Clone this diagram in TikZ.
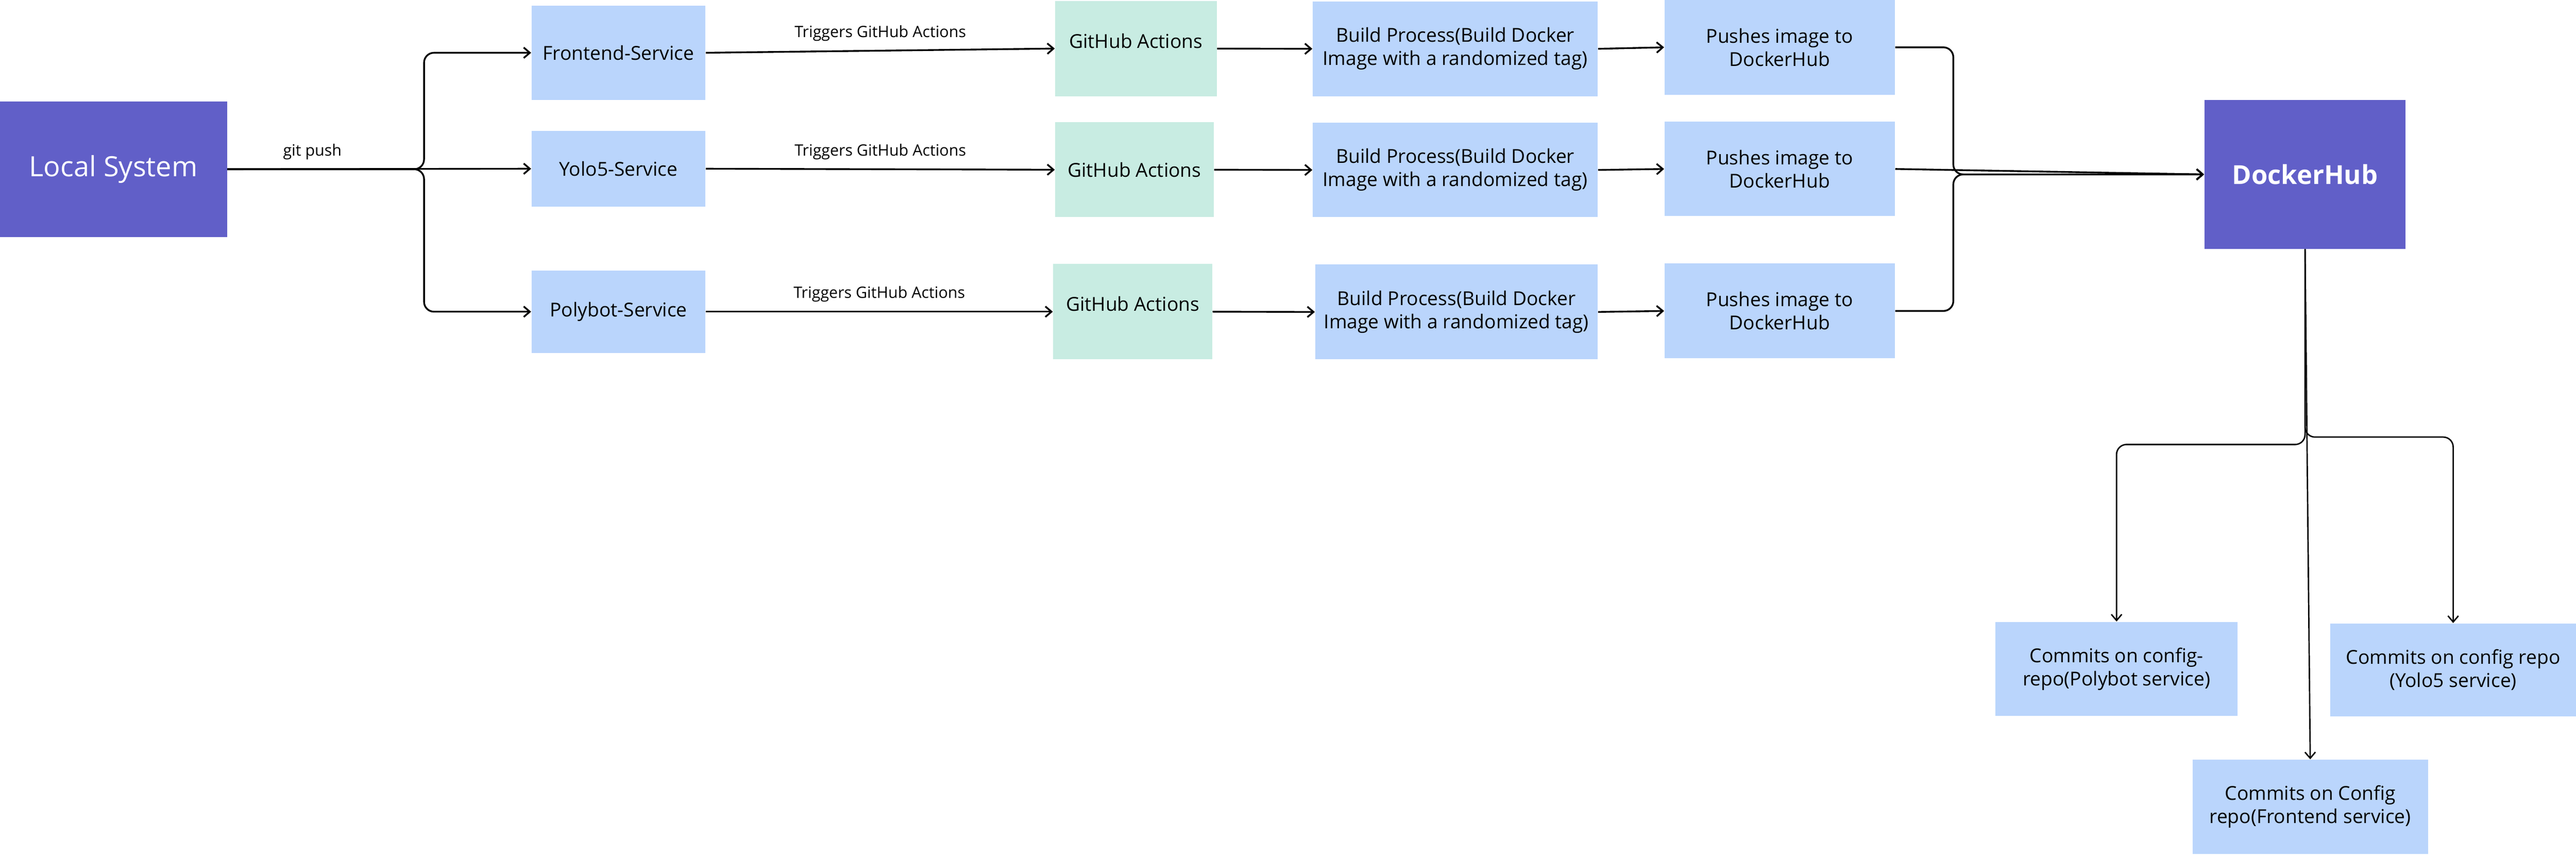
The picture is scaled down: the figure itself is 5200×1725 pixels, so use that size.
\documentclass[tikz,border=0pt]{standalone}
\usepackage{fontspec}
\setmainfont{Open Sans}
\usetikzlibrary{arrows.meta}
\definecolor{dpurple}{HTML}{615FC8}
\definecolor{lblue}{HTML}{BAD5FC}
\definecolor{lgreen}{HTML}{C8ECE2}
\tikzset{
  box/.style={rectangle, fill=lblue, inner sep=0pt, align=center, text=black,
    font=\fontsize{11}{13.3}\selectfont},
  gabox/.style={box, fill=lgreen},
  hub/.style={rectangle, fill=dpurple, inner sep=0pt, align=center, text=white},
  conn/.style={line width=1pt, rounded corners=0.2cm, -{Straight Barb[length=3.5pt,width=6pt]}},
  conn2/.style={line width=0.8pt, rounded corners=0.2cm, -{Straight Barb[length=3.5pt,width=6pt]}},
  lbl/.style={font=\fontsize{9}{10}\selectfont, inner sep=1pt, above=4pt}
}
\begin{document}
\begin{tikzpicture}[x=0.01cm, y=-0.01cm]
\useasboundingbox (0,0) rectangle (5200,1725);
% nodes
\node[hub, minimum width=4.58cm, minimum height=2.73cm, font=\fontsize{16}{19}\selectfont] (ls) at (229,341.5) {Local System};
\node[box, minimum width=3.51cm, minimum height=1.91cm] (fe) at (1248.5,106.5) {Frontend-Service};
\node[box, minimum width=3.51cm, minimum height=1.53cm] (yo) at (1248.5,340.5) {Yolo5-Service};
\node[box, minimum width=3.51cm, minimum height=1.66cm] (pb) at (1248.5,629) {Polybot-Service};
\node[gabox, minimum width=3.26cm, minimum height=1.92cm] (ga1) at (2293,98) {\raisebox{0.3cm}{GitHub Actions}};
\node[gabox, minimum width=3.20cm, minimum height=1.91cm] (ga2) at (2290,342.5) {GitHub Actions};
\node[gabox, minimum width=3.21cm, minimum height=1.92cm] (ga3) at (2286.5,629) {\raisebox{0.32cm}{GitHub Actions}};
\node[box, minimum width=5.75cm, minimum height=1.91cm] (b1) at (2937.5,98.5) {Build Process(Build Docker\\Image with a randomized tag)};
\node[box, minimum width=5.75cm, minimum height=1.90cm] (b2) at (2937.5,343) {Build Process(Build Docker\\Image with a randomized tag)};
\node[box, minimum width=5.70cm, minimum height=1.91cm] (b3) at (2940,629.5) {Build Process(Build Docker\\Image with a randomized tag)};
\node[box, minimum width=4.65cm, minimum height=1.91cm] (p1) at (3592.5,95.5) {Pushes image to\\DockerHub};
\node[box, minimum width=4.65cm, minimum height=1.90cm] (p2) at (3592.5,341) {Pushes image to\\DockerHub};
\node[box, minimum width=4.65cm, minimum height=1.91cm] (p3) at (3592.5,627.5) {Pushes image to\\DockerHub};
\node[hub, minimum width=4.06cm, minimum height=3.00cm, font=\fontsize{15}{18}\selectfont\bfseries] (dh) at (4653,352) {DockerHub};
\node[box, minimum width=4.89cm, minimum height=1.90cm] (cp) at (4272.5,1350) {Commits on config-\\repo(Polybot service)};
\node[box, minimum width=4.96cm, minimum height=1.88cm] (cy) at (4952,1352) {Commits on config repo\\(Yolo5 service)};
\node[box, minimum width=4.75cm, minimum height=1.90cm] (cf) at (4663.5,1628) {Commits on Config\\repo(Frontend service)};
% helper coordinates
\coordinate (bx) at (856,341.5);
\coordinate (mx) at (3943,352);
\coordinate (dl) at (4653,897);
\coordinate (dr) at (4653,882);
% connectors
\draw[conn] (ls.east) -- (bx) |- (fe.west);
\draw[conn] (ls.east) -- node[lbl, pos=0.28] {git push} (yo.west);
\draw[conn] (ls.east) -- (bx) |- (pb.west);
\draw[conn] (fe.east) -- node[lbl] {Triggers GitHub Actions} (ga1.west);
\draw[conn] (yo.east) -- node[lbl] {Triggers GitHub Actions} (ga2.west);
\draw[conn] (pb.east) -- node[lbl] {Triggers GitHub Actions} (ga3.west);
\draw[conn] (ga1.east) -- (b1.west);
\draw[conn] (ga2.east) -- (b2.west);
\draw[conn] (ga3.east) -- (b3.west);
\draw[conn] (b1.east) -- (p1.west);
\draw[conn] (b2.east) -- (p2.west);
\draw[conn] (b3.east) -- (p3.west);
\draw[conn] (p1.east) -| (mx) -- (dh.west);
\draw[conn] (p2.east) -- (dh.west);
\draw[conn] (p3.east) -| (mx) -- (dh.west);
\draw[conn2] (dh.south) -- (dl) -| (cp.north);
\draw[conn2] (dh.south) -- (dr) -| (cy.north);
\draw[conn2] (dh.south) -- (cf.north);
\end{tikzpicture}
\end{document}
